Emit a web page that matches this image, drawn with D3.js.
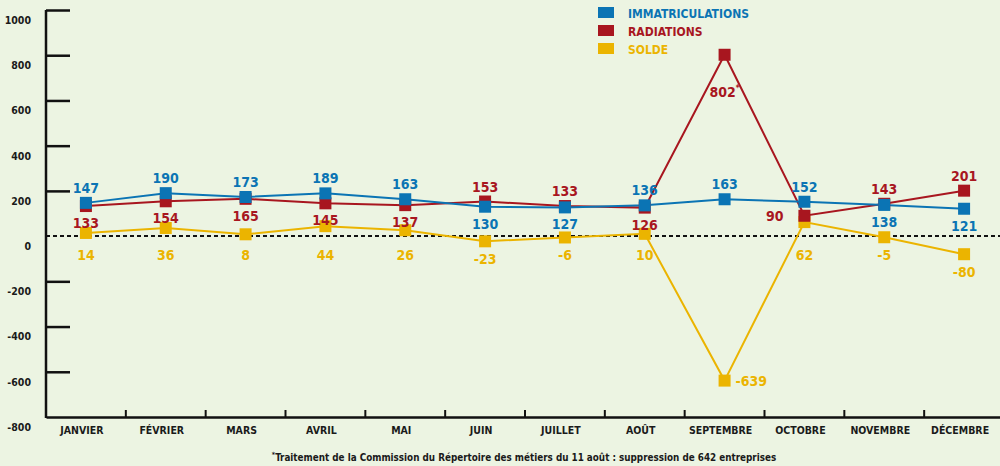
<!DOCTYPE html>
<html>
<head>
<meta charset="utf-8">
<script src="https://cdn.jsdelivr.net/npm/d3@7"></script>
<style>
  html, body { margin: 0; padding: 0; background: #ecf4e2; }
  svg { display: block; }
  text { font-family: "Liberation Sans Narrow", "DejaVu Sans Condensed", "Roboto", sans-serif; font-weight: bold; }
</style>
</head>
<body>
<svg id="chart" width="1000" height="466"></svg>
<script>
// données mensuelles
var mois = ['JANVIER', 'FÉVRIER', 'MARS', 'AVRIL', 'MAI', 'JUIN', 'JUILLET', 'AOÛT', 'SEPTEMBRE', 'OCTOBRE', 'NOVEMBRE', 'DÉCEMBRE'];
var immatriculations = [147, 190, 173, 189, 163, 130, 127, 136, 163, 152, 138, 121];
var radiations = [133, 154, 165, 145, 137, 153, 133, 126, 802, 90, 143, 201];
var solde = [14, 36, 8, 44, 26, -23, -6, 10, -639, 62, -5, -80];
var yTicks = [1000, 800, 600, 400, 200, 0, -200, -400, -600, -800];

// ou placer les étiquettes : a = dessus, b = dessous, l = gauche, r = droite
var posImmat = ['a', 'a', 'a', 'a', 'a', 'b', 'b', 'a', 'a', 'a', 'b', 'b'];
var posRad = ['b', 'b', 'b', 'b', 'b', 'a', 'a', 'b', 'b', 'l', 'a', 'a'];
var posSolde = ['b', 'b', 'b', 'b', 'b', 'b', 'b', 'b', 'r', 'b', 'b', 'b'];

var bleu = '#0b74b4', rouge = '#a8161f', jaune = '#ebb400';

var svg = d3.select('#chart');

var x = d3.scaleBand().domain(mois).range([46, 1004]);
var y = d3.scaleLinear().domain([-800, 1000]).range([417, 10]);
var bw = x.bandwidth();
function cx(m) { return x(m) + bw / 2; }

// axe vertical
var yAxis = svg.append('g')
  .attr('transform', 'translate(46,0)')
  .call(d3.axisLeft(y).tickValues(yTicks).tickSize(-24).tickPadding(15).tickFormat(function (d) { return String(d); }));
yAxis.select('.domain').remove();
yAxis.selectAll('.tick line').attr('stroke', '#111').attr('stroke-width', 2.5)
  .filter(function (d) { return d === 0 || d === -800; }).remove();
yAxis.selectAll('.tick text')
  .attr('fill', '#1a1a1a')
  .attr('font-size', 10.5)
  .attr('transform', 'translate(0,10)')
  .attr('font-family', null);

svg.append('line')
  .attr('x1', 46).attr('x2', 46)
  .attr('y1', y(1000)).attr('y2', y(-800) + 1)
  .attr('stroke', '#111').attr('stroke-width', 2.5);

// axe horizontal
var xAxis = svg.append('g')
  .attr('transform', 'translate(0,' + y(-800) + ')')
  .call(d3.axisBottom(x).tickSize(0).tickPadding(10));
xAxis.select('.domain').attr('stroke', '#111').attr('stroke-width', 2.5);
xAxis.selectAll('.tick text')
  .attr('fill', '#1a1a1a')
  .attr('font-size', 10.5)
  .attr('dx', -4)
  .attr('font-family', null);

svg.selectAll('line.xtick')
  .data(mois.slice(1))
  .enter()
  .append('line')
  .attr('class', 'xtick')
  .attr('x1', function (d) { return x(d); })
  .attr('x2', function (d) { return x(d); })
  .attr('y1', y(-800))
  .attr('y2', y(-800) - 7)
  .attr('stroke', '#111')
  .attr('stroke-width', 2);

// ligne du zéro
svg.append('line')
  .attr('x1', 46).attr('x2', 1000)
  .attr('y1', y(0)).attr('y2', y(0))
  .attr('stroke', '#111')
  .attr('stroke-width', 2)
  .attr('stroke-dasharray', '4,3');

var line = d3.line()
  .x(function (d) { return cx(d.m); })
  .y(function (d) { return y(d.v); });

function serie(vals, col, pos) {
  var pts = vals.map(function (v, i) { return { m: mois[i], v: v, p: pos[i] }; });
  svg.append('path')
    .datum(pts)
    .attr('fill', 'none')
    .attr('stroke', col)
    .attr('stroke-width', 2)
    .attr('d', line);
  return pts;
}

function carres(pts, col) {
  svg.selectAll(null)
    .data(pts)
    .enter()
    .append('rect')
    .attr('x', function (d) { return cx(d.m) - 6; })
    .attr('y', function (d) { return y(d.v) - 6; })
    .attr('width', 12)
    .attr('height', 12)
    .attr('fill', col);
}

function etiquettes(pts, col, kind) {
  var t = svg.selectAll(null)
    .data(pts)
    .enter()
    .append('text')
    .attr('fill', col)
    .attr('font-size', 14)
    .attr('text-anchor', function (d) {
      if (d.p === 'l') return 'end';
      if (d.p === 'r') return 'start';
      return 'middle';
    })
    .attr('x', function (d) {
      if (d.p === 'l') return cx(d.m) - 21;
      if (d.p === 'r') return cx(d.m) + 11;
      return cx(d.m);
    })
    .attr('y', function (d) {
      var yy = y(d.v);
      if (d.p === 'a') return yy - 10;
      if (d.p === 'l' || d.p === 'r') return yy + 5;
      if (kind === 'solde') return Math.max(y(0) + 24, yy + 23);
      if (d.v > 500) return yy + 42;
      return yy + 22;
    })
    .text(function (d) { return d.v; });
  t.filter(function (d) { return d.v === 802; })
    .append('tspan')
    .attr('font-size', 8)
    .attr('dy', -6)
    .text('*');
}

var pS = serie(solde, jaune, posSolde);
var pR = serie(radiations, rouge, posRad);
var pI = serie(immatriculations, bleu, posImmat);
carres(pS, jaune);
carres(pR, rouge);
carres(pI, bleu);
etiquettes(pS, jaune, 'solde');
etiquettes(pR, rouge, 'rad');
etiquettes(pI, bleu, 'immat');

// légende
var legende = [['IMMATRICULATIONS', bleu], ['RADIATIONS', rouge], ['SOLDE', jaune]];
var lg = svg.selectAll('g.leg')
  .data(legende)
  .enter()
  .append('g')
  .attr('class', 'leg')
  .attr('transform', function (d, i) { return 'translate(598,' + (7 + i * 18) + ')'; });
lg.append('rect').attr('width', 16).attr('height', 11).attr('fill', function (d) { return d[1]; });
lg.append('text')
  .attr('x', 30)
  .attr('y', 10.5)
  .attr('font-size', 12)
  .attr('fill', function (d) { return d[1]; })
  .text(function (d) { return d[0]; });

// note
var note = svg.append('text')
  .attr('x', 524)
  .attr('y', 461)
  .attr('text-anchor', 'middle')
  .attr('font-size', 9.8)
  .attr('fill', '#1a1a1a');
note.append('tspan').attr('font-size', 7).attr('dy', -4).text('*');
note.append('tspan').attr('dy', 4).text('Traitement de la Commission du Répertoire des métiers du 11 août : suppression de 642 entreprises');
</script>
</body>
</html>
